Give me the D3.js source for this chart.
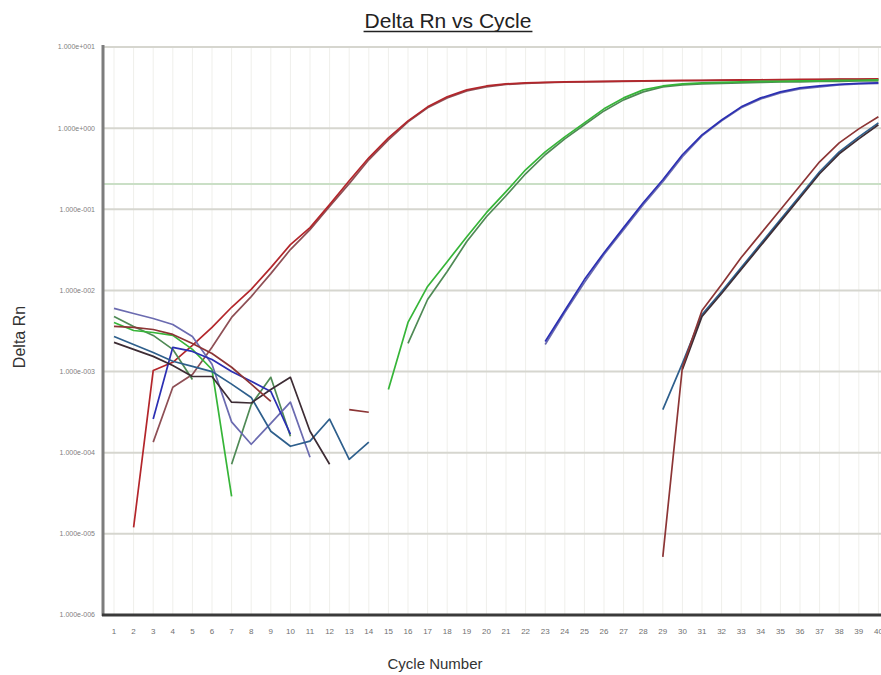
<!DOCTYPE html>
<html>
<head>
<meta charset="utf-8">
<script src="https://cdn.jsdelivr.net/npm/d3@7/dist/d3.min.js"></script>
<style>
  html, body { margin: 0; padding: 0; background: #fff; }
  svg { display: block; }
</style>
</head>
<body>
<div id="chart"></div>
<script>
var cycles = d3.range(1, 41);

var yTicks = [1e1, 1e0, 1e-1, 1e-2, 1e-3, 1e-4, 1e-5, 1e-6];
var yTickLabels = ["1.000e+001", "1.000e+000", "1.000e-001", "1.000e-002",
  "1.000e-003", "1.000e-004", "1.000e-005", "1.000e-006"];

var threshold = 0.205;

// Delta Rn per cycle (index 0 = cycle 1); null = not plotted (<= 0)
var redEarly = [null, 1.2e-5, 1.03e-3, 1.3e-3, 2.1e-3, 3.5e-3, 6.2e-3, 1.03e-2, 1.91e-2, 3.67e-2,
  5.94e-2, 0.114, 0.225, 0.431, 0.76, 1.23, 1.83, 2.43, 2.96, 3.31,
  3.51, 3.61, 3.66, 3.71, 3.74, 3.77, 3.80, 3.82, 3.85, 3.87,
  3.89, 3.91, 3.93, 3.95, 3.96, 3.98, 3.99, 4.01, 4.02, 4.04];
var mauveEarly = [null, null, 1.35e-4, 6.4e-4, 9.2e-4, 1.99e-3, 4.65e-3, 8.4e-3, 1.61e-2, 3.19e-2,
  5.61e-2, 0.108, 0.207, 0.407, 0.718, 1.195, 1.78, 2.36, 2.88, 3.22,
  3.46, 3.56, 3.63, 3.68, 3.71, 3.74, 3.77, 3.80, 3.82, 3.84,
  3.86, 3.88, 3.90, 3.92, 3.94, 3.95, 3.97, 3.98, 4.00, 4.02];
var greenMid = [4.03e-3, 3.21e-3, 3.03e-3, 2.79e-3, 1.88e-3, 1.06e-3, 2.9e-5, null, null, null,
  null, null, null, null, 6.0e-4, 4.03e-3, 1.12e-2, 2.26e-2, 4.6e-2, 9.08e-2,
  0.165, 0.307, 0.511, 0.78, 1.16, 1.73, 2.36, 2.96, 3.31, 3.51,
  3.61, 3.66, 3.71, 3.77, 3.77, 3.82, 3.82, 3.87, 3.87, 3.93];
var darkGreenMid = [4.78e-3, 3.6e-3, 2.79e-3, 1.88e-3, 8.0e-4, null, 7.2e-5, 3.9e-4, 8.5e-4, 1.6e-4,
  null, null, null, null, null, 2.22e-3, 7.73e-3, 1.71e-2, 4.0e-2, 8.1e-2,
  0.147, 0.274, 0.47, 0.738, 1.10, 1.63, 2.23, 2.80, 3.22, 3.41,
  3.51, 3.56, 3.61, 3.66, 3.71, 3.71, 3.77, 3.77, 3.82, 3.82];
var blueLate = [null, null, 2.6e-4, 1.99e-3, 1.77e-3, 1.41e-3, 1.0e-3, 7.6e-4, 5.7e-4, 1.69e-4,
  null, null, null, null, null, null, null, null, null, null,
  null, null, 2.35e-3, 5.66e-3, 1.36e-2, 2.92e-2, 5.94e-2, 0.1205, 0.231, 0.47,
  0.827, 1.26, 1.83, 2.36, 2.80, 3.13, 3.31, 3.46, 3.56, 3.61];
var slateLate = [6.0e-3, 5.2e-3, 4.51e-3, 3.8e-3, 2.71e-3, 1.23e-3, 2.4e-4, 1.27e-4, 2.3e-4, 4.2e-4,
  8.8e-5, null, null, null, null, null, null, null, null, null,
  null, null, 2.16e-3, 5.35e-3, 1.25e-2, 2.77e-2, 5.61e-2, 0.114, 0.2185, 0.4436,
  0.804, 1.23, 1.78, 2.29, 2.72, 3.04, 3.22, 3.41, 3.51, 3.56];
var redLast = [3.6e-3, 3.5e-3, 3.3e-3, 2.87e-3, 2.22e-3, 1.67e-3, 1.13e-3, 7.0e-4, 4.3e-4, null,
  null, null, 3.4e-4, 3.15e-4, null, null, null, null, null, null,
  null, null, null, null, null, null, null, null, 5.2e-6, 1.13e-3,
  5.66e-3, 1.18e-2, 2.54e-2, 5.01e-2, 9.89e-2, 0.195, 0.385, 0.659, 0.98, 1.38];
var steelLast = [2.71e-3, 2.16e-3, 1.72e-3, 1.34e-3, 1.16e-3, 1.0e-3, 7.0e-4, 4.8e-4, 1.84e-4, 1.2e-4,
  1.39e-4, 2.6e-4, 8.3e-5, 1.35e-4, null, null, null, null, null, null,
  null, null, null, null, null, null, null, null, 3.4e-4, 1.26e-3,
  5.05e-3, 9.7e-3, 1.91e-2, 3.78e-2, 7.45e-2, 0.147, 0.29, 0.511, 0.78, 1.16];
var darkLast = [2.29e-3, 1.88e-3, 1.54e-3, 1.19e-3, 8.7e-4, 8.7e-4, 4.2e-4, 4.1e-4, 6.0e-4, 8.5e-4,
  1.84e-4, 7.2e-5, null, null, null, null, null, null, null, null,
  null, null, null, null, null, null, null, null, null, 1.06e-3,
  4.78e-3, 9.17e-3, 1.81e-2, 3.57e-2, 7.04e-2, 0.139, 0.274, 0.483, 0.738, 1.10];

var series = [
  {name: "A1", color: "#8e4f55", values: mauveEarly},
  {name: "A2", color: "#b3262b", values: redEarly},
  {name: "B1", color: "#4f8a55", values: darkGreenMid},
  {name: "B2", color: "#36b538", values: greenMid},
  {name: "C1", color: "#6b6bb0", values: slateLate},
  {name: "C2", color: "#2b2fb3", values: blueLate},
  {name: "D1", color: "#2e5f8c", values: steelLast},
  {name: "D2", color: "#3d2c34", values: darkLast},
  {name: "D3", color: "#8c3535", values: redLast}
];

(function () {
  var width = 881;
  var height = 675;
  var plotLeft = 103;
  var plotTop = 47;
  var plotBottom = 615;

  var svg = d3.select("#chart").append("svg")
    .attr("width", width)
    .attr("height", height)
    .attr("viewBox", "0 0 " + width + " " + height);

  var x = d3.scaleLinear().domain([1, 40]).range([114, 878.4]);
  var y = d3.scaleLog().domain([1e-6, 10]).range([plotBottom, plotTop]);

  var font = "'Liberation Sans', Arial, sans-serif";

  // vertical grid, one per cycle
  svg.append("g")
    .selectAll("line")
    .data(cycles)
    .join("line")
    .attr("x1", function (c) { return x(c); })
    .attr("x2", function (c) { return x(c); })
    .attr("y1", plotTop)
    .attr("y2", plotBottom)
    .attr("stroke", "#efefeb")
    .attr("stroke-width", 1);

  // horizontal grid at each decade
  svg.append("g")
    .selectAll("line")
    .data(yTicks)
    .join("line")
    .attr("x1", plotLeft)
    .attr("x2", width)
    .attr("y1", function (v) { return y(v); })
    .attr("y2", function (v) { return y(v); })
    .attr("stroke", "#d6d6cf")
    .attr("stroke-width", 2);

  // threshold
  svg.append("line")
    .attr("x1", plotLeft)
    .attr("x2", width)
    .attr("y1", y(threshold))
    .attr("y2", y(threshold))
    .attr("stroke", "#cadfc6")
    .attr("stroke-width", 2);

  var line = d3.line()
    .defined(function (d) { return d.v != null && d.v > 0; })
    .x(function (d) { return x(d.c); })
    .y(function (d) { return y(d.v); });

  svg.append("g")
    .attr("fill", "none")
    .attr("stroke-linejoin", "round")
    .selectAll("path")
    .data(series)
    .join("path")
    .attr("stroke", function (s) { return s.color; })
    .attr("stroke-width", 1.7)
    .attr("d", function (s) {
      return line(s.values.map(function (v, i) { return {c: cycles[i], v: v}; }));
    });

  // axes lines
  svg.append("line")
    .attr("x1", plotLeft).attr("x2", plotLeft)
    .attr("y1", plotTop - 2).attr("y2", plotBottom + 1)
    .attr("stroke", "#7d7d7d")
    .attr("stroke-width", 3);

  svg.append("line")
    .attr("x1", plotLeft - 1).attr("x2", width)
    .attr("y1", plotBottom).attr("y2", plotBottom)
    .attr("stroke", "#3a3a3a")
    .attr("stroke-width", 3);

  // y tick labels
  svg.append("g")
    .selectAll("text")
    .data(yTicks)
    .join("text")
    .attr("x", 95)
    .attr("y", function (v) { return y(v); })
    .attr("dy", "0.35em")
    .attr("text-anchor", "end")
    .attr("font-family", font)
    .attr("font-size", 7)
    .attr("fill", "#808080")
    .text(function (v, i) { return yTickLabels[i]; });

  // x tick labels
  svg.append("g")
    .selectAll("text")
    .data(cycles)
    .join("text")
    .attr("x", function (c) { return x(c); })
    .attr("y", 634)
    .attr("text-anchor", "middle")
    .attr("font-family", font)
    .attr("font-size", 8)
    .attr("fill", "#707070")
    .text(function (c) { return c; });

  // axis titles
  svg.append("text")
    .attr("x", 435)
    .attr("y", 669)
    .attr("text-anchor", "middle")
    .attr("font-family", font)
    .attr("font-size", 15)
    .attr("fill", "#333")
    .text("Cycle Number");

  svg.append("text")
    .attr("transform", "translate(25,337) rotate(-90)")
    .attr("text-anchor", "middle")
    .attr("font-family", font)
    .attr("font-size", 16)
    .attr("fill", "#333")
    .text("Delta Rn");

  var title = svg.append("text")
    .attr("x", 448)
    .attr("y", 28)
    .attr("text-anchor", "middle")
    .attr("font-family", font)
    .attr("font-size", 21)
    .attr("fill", "#222")
    .text("Delta Rn vs Cycle");

  var tw = title.node().getComputedTextLength();
  svg.append("line")
    .attr("x1", 448 - tw / 2 - 1)
    .attr("x2", 448 + tw / 2 + 1)
    .attr("y1", 31.5)
    .attr("y2", 31.5)
    .attr("stroke", "#222")
    .attr("stroke-width", 1.6);
}());
</script>
</body>
</html>
